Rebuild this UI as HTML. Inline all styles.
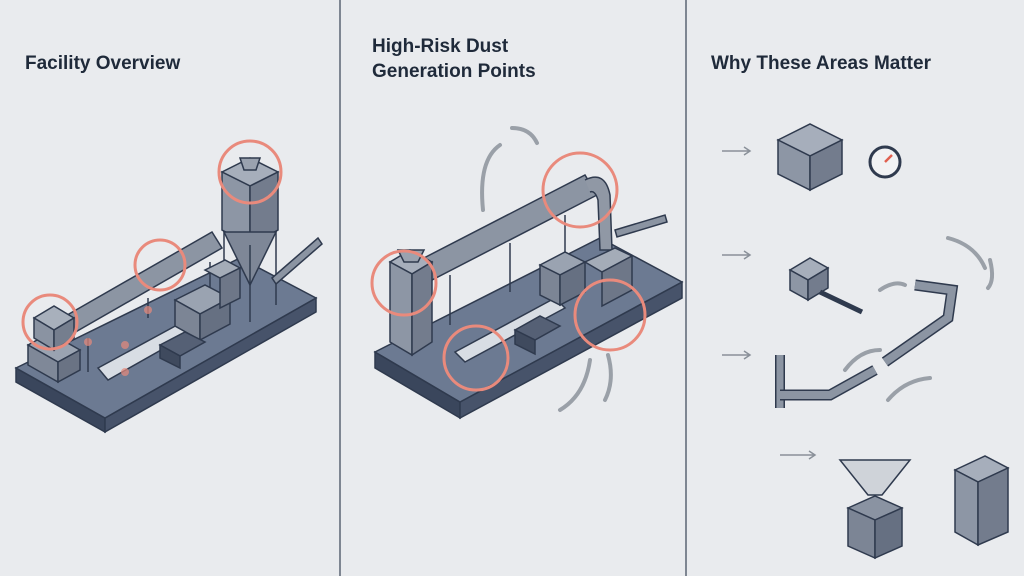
<!DOCTYPE html>
<html><head><meta charset="utf-8"><style>
body{margin:0;width:1024px;height:576px;background:#e9ebee;overflow:hidden;font-family:"Liberation Sans",sans-serif}
svg{position:absolute;left:0;top:0}
.t{font-weight:bold;font-size:19px;fill:#1f2a3a}
</style></head><body>
<svg width="1024" height="576" viewBox="0 0 1024 576">
<rect width="1024" height="576" fill="#e9ebee"/>
<line x1="340" y1="0" x2="340" y2="576" stroke="#5a6474" stroke-width="1.5"/>
<line x1="686" y1="0" x2="686" y2="576" stroke="#5a6474" stroke-width="1.5"/>
<text class="t" x="25" y="69">Facility Overview</text>
<text class="t" x="372" y="52">High-Risk Dust</text>
<text class="t" x="372" y="77">Generation Points</text>
<text class="t" x="711" y="69">Why These Areas Matter</text>

<!-- Panel 1 -->
<g stroke="#2f3a4e" stroke-width="1.5">
<polygon points="16,368 105,418 105,432 16,382" fill="#3a465c"/>
<polygon points="105,418 316,298 316,312 105,432" fill="#47536a"/>
<polygon points="16,368 240,258 316,298 105,418" fill="#6c7a92"/>
<!-- pipe -->
<polygon points="62,318 212,232 222,248 72,334" fill="#8c95a3"/>
<line x1="88" y1="338" x2="88" y2="372"/><line x1="148" y1="298" x2="148" y2="318"/><line x1="210" y1="262" x2="210" y2="290"/>
<!-- left box -->
<polygon points="28,345 58,362 80,350 50,333" fill="#9aa3b1"/>
<polygon points="28,345 58,362 58,382 28,365" fill="#7f8898"/>
<polygon points="58,362 80,350 80,370 58,382" fill="#6a7384"/>
<polygon points="34,318 54,330 74,318 54,306" fill="#a8b0bc"/>
<polygon points="34,318 54,330 54,350 34,338" fill="#8a93a2"/>
<polygon points="54,330 74,318 74,338 54,350" fill="#757e8e"/>
<!-- silo -->
<polygon points="222,172 250,186 278,172 250,158" fill="#a6aebb"/>
<polygon points="222,172 250,186 250,245 222,230" fill="#8d96a5"/>
<polygon points="250,186 278,172 278,230 250,245" fill="#737c8d"/>
<polygon points="224,232 276,232 250,285" fill="#7e8797"/>
<line x1="224" y1="232" x2="224" y2="308"/><line x1="250" y1="245" x2="250" y2="322"/><line x1="276" y1="232" x2="276" y2="305"/>
<polygon points="240,158 260,158 256,170 244,170" fill="#9aa2af"/>
<!-- auger -->
<polygon points="272,278 318,238 322,244 276,284" fill="#8b94a2"/>
<!-- conveyor / machines -->
<polygon points="98,368 190,318 200,328 108,380" fill="#d8dde4"/>
<polygon points="175,300 205,285 230,298 200,314" fill="#9aa3b1"/>
<polygon points="175,300 200,314 200,340 175,326" fill="#7c8595"/>
<polygon points="200,314 230,298 230,324 200,340" fill="#667082"/>
<polygon points="205,270 225,260 240,268 220,278" fill="#a4acb8"/>
<polygon points="220,278 240,268 240,298 220,308" fill="#6e7788"/>
<polygon points="160,345 185,332 205,342 180,356" fill="#556075"/>
<polygon points="160,345 180,356 180,368 160,358" fill="#3f4a5e"/>
</g>
<g fill="none" stroke="#e98a7c" stroke-width="3">
<circle cx="50" cy="322" r="27"/><circle cx="160" cy="265" r="25"/><circle cx="250" cy="172" r="31"/>
</g>
<g fill="#e98a7c" opacity=".7"><circle cx="88" cy="342" r="4"/><circle cx="148" cy="310" r="4"/><circle cx="125" cy="345" r="4"/><circle cx="125" cy="372" r="4"/></g>

<!-- Panel 2 -->
<g stroke="#2f3a4e" stroke-width="1.5">
<polygon points="375,352 460,402 460,418 375,368" fill="#3a465c"/>
<polygon points="460,402 682,282 682,298 460,418" fill="#47536a"/>
<polygon points="375,352 600,238 682,282 460,402" fill="#6c7a92"/>
<polygon points="420,260 585,175 597,195 432,280" fill="#8c95a3"/>
<path d="M585,180 Q605,170 610,195 L612,250 L600,250 L598,200 Q595,190 590,192" fill="#9098a5"/>
<line x1="450" y1="275" x2="450" y2="325"/><line x1="510" y1="243" x2="510" y2="292"/><line x1="565" y1="215" x2="565" y2="262"/>
<polygon points="615,230 665,215 667,222 617,237" fill="#8b94a2"/>
<polygon points="390,262 412,274 432,262 410,250" fill="#a6aebb"/>
<polygon points="390,262 412,274 412,355 390,342" fill="#8d96a5"/>
<polygon points="412,274 432,262 432,342 412,355" fill="#737c8d"/>
<polygon points="398,250 424,250 418,262 404,262" fill="#9aa2af"/>
<polygon points="455,352 555,298 565,308 465,362" fill="#d8dde4"/>
<polygon points="540,265 565,252 585,262 560,275" fill="#9aa3b1"/>
<polygon points="540,265 560,275 560,305 540,295" fill="#7c8595"/>
<polygon points="560,275 585,262 585,292 560,305" fill="#667082"/>
<polygon points="585,262 615,248 632,256 602,272" fill="#a4acb8"/>
<polygon points="602,272 632,256 632,290 602,306" fill="#6e7788"/>
<polygon points="515,330 540,316 560,326 535,340" fill="#556075"/>
<polygon points="515,330 535,340 535,354 515,344" fill="#3f4a5e"/>
</g>
<g fill="none" stroke="#e98a7c" stroke-width="3">
<circle cx="404" cy="283" r="32"/><circle cx="580" cy="190" r="37"/><circle cx="476" cy="358" r="32"/><circle cx="610" cy="315" r="35"/>
</g>
<g fill="none" stroke="#9aa0a8" stroke-width="4" stroke-linecap="round">
<path d="M500,145 Q478,160 483,210"/><path d="M512,128 Q530,128 537,143"/>
<path d="M560,410 Q585,395 590,360"/><path d="M605,400 Q615,380 608,355"/>
</g>

<!-- Panel 3 -->
<g stroke="#2f3a4e" stroke-width="1.5">
<polygon points="778,140 810,124 842,140 810,156" fill="#a6aebb"/>
<polygon points="778,140 810,156 810,190 778,174" fill="#8d96a5"/>
<polygon points="810,156 842,140 842,174 810,190" fill="#737c8d"/>
<circle cx="885" cy="162" r="15" fill="#f1f2f4" stroke-width="3"/>
<polygon points="790,270 810,258 828,268 808,280" fill="#a6aebb"/>
<polygon points="790,270 808,280 808,300 790,290" fill="#8d96a5"/>
<polygon points="808,280 828,268 828,288 808,300" fill="#737c8d"/>
<line x1="820" y1="292" x2="862" y2="312" stroke-width="5"/>
<path d="M780,355 L780,408" stroke-width="10" fill="none" stroke="#2f3a4e"/>
<path d="M780,355 L780,408" stroke-width="7" fill="none" stroke="#8c95a3"/>
<path d="M780,395 L830,395 L875,370" stroke-width="11" fill="none" stroke="#2f3a4e"/>
<path d="M780,395 L830,395 L875,370" stroke-width="8" fill="none" stroke="#8c95a3"/>
<path d="M885,362 L948,318 L952,290 L915,285" stroke-width="11" fill="none" stroke="#2f3a4e"/>
<path d="M885,362 L948,318 L952,290 L915,285" stroke-width="8" fill="none" stroke="#8c95a3"/>
<path d="M840,460 L910,460 L882,495 L868,495 Z" fill="#cfd3d9"/>
<polygon points="848,508 875,496 902,508 875,520" fill="#8a93a2"/>
<polygon points="848,508 875,520 875,558 848,546" fill="#7c8595"/>
<polygon points="875,520 902,508 902,546 875,558" fill="#667082"/>
<polygon points="955,470 985,456 1008,468 978,482" fill="#a6aebb"/>
<polygon points="955,470 978,482 978,545 955,532" fill="#8d96a5"/>
<polygon points="978,482 1008,468 1008,532 978,545" fill="#737c8d"/>
</g>
<path d="M885,162 L892,155" stroke="#e06050" stroke-width="2.5"/>
<g stroke="#8a9099" stroke-width="1.5" fill="none">
<path d="M722,151 L750,151 M744,147 L750,151 L744,155"/>
<path d="M722,255 L750,255 M744,251 L750,255 L744,259"/>
<path d="M722,355 L750,355 M744,351 L750,355 L744,359"/>
<path d="M780,455 L815,455 M809,451 L815,455 L809,459"/>
</g>
<g fill="none" stroke="#9aa0a8" stroke-width="4" stroke-linecap="round">
<path d="M948,238 Q975,245 985,268"/><path d="M990,260 Q995,280 988,288"/>
<path d="M880,290 Q895,280 905,285"/><path d="M845,370 Q860,350 880,350"/>
<path d="M888,400 Q905,380 930,378"/>
</g>
</svg>
</body></html>
